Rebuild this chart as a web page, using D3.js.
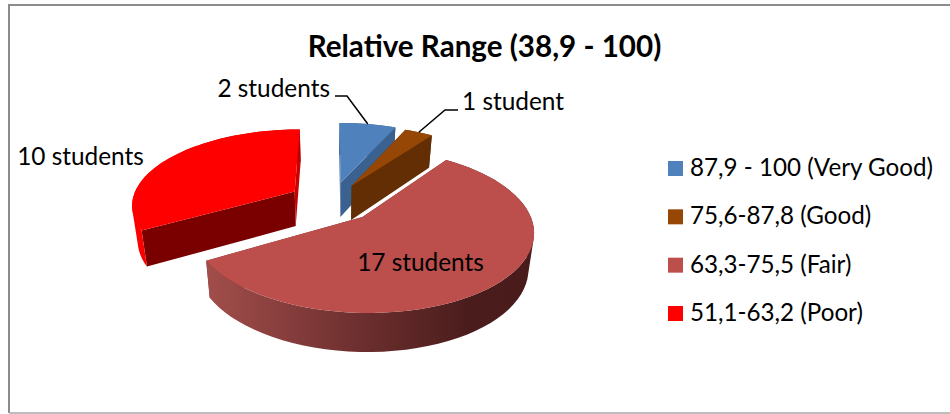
<!DOCTYPE html>
<html>
<head>
<meta charset="utf-8">
<script src="https://cdn.jsdelivr.net/npm/d3@7"></script>
<style>
  html, body { margin: 0; padding: 0; background: #fff; }
  svg { display: block; }
  text { font-family: Lato, "Open Sans", sans-serif; fill: #000; }
</style>
</head>
<body>
<script>
const width = 950;
const height = 414;

const categories = ['87,9 - 100 (Very Good)', '75,6-87,8 (Good)', '63,3-75,5 (Fair)', '51,1-63,2 (Poor)'];
const students = [2, 1, 17, 10];
const dataLabels = ['2 students', '1 student', '17 students', '10 students'];
const title = 'Relative Range (38,9 - 100)';

const topColors = ['#4f81bd', '#964605', '#bc4f4c', '#ff0000'];
const wallColors = ['#3a618f', '#632e03', '#7d3230', '#7a0000'];
const explode = [0.265, 0.25, 0.27, 0.27];

// tilted disc with a bit of perspective
const cx = 332, cy = 201.5;
const rx = 163, ry = 75, persp = 0.16, depth = 34.9, converge = 0.028;

function project(u, v) {
  const p = 1 / (1 - persp * v);
  return [cx + rx * u * p, cy + ry * v * p, p];
}

const svg = d3.select('body')
  .append('svg')
  .attr('width', width)
  .attr('height', height);

// frame runs off the right edge of the picture
svg.append('path')
  .attr('d', d3.line()([[width, 5], [9, 5], [9, 413]]))
  .attr('fill', 'none')
  .attr('stroke', '#8c8c8c')
  .attr('stroke-width', 2);
svg.append('path')
  .attr('d', d3.line()([[9, 413], [width, 413]]))
  .attr('fill', 'none')
  .attr('stroke', '#bcbcbc')
  .attr('stroke-width', 2);

const defs = svg.append('defs');
const fairGrad = defs.append('linearGradient').attr('id', 'fairWall');
[[0, '#a24e4b'], [0.45, '#6f3030'], [0.8, '#4b1c1c'], [1, '#4a1b1b']].forEach(s => {
  fairGrad.append('stop').attr('offset', s[0]).attr('stop-color', s[1]);
});
const redGrad = defs.append('linearGradient').attr('id', 'redWall');
[[0, '#ff0000'], [1, '#b80000']].forEach(s => {
  redGrad.append('stop').attr('offset', s[0]).attr('stop-color', s[1]);
});

const pie = d3.pie().sort(null).value(d => d);
const arcs = pie(students);
const line = d3.line();

function slicePoints(d, i) {
  const mid = (d.startAngle + d.endAngle) / 2;
  const ox = Math.sin(mid) * explode[i];
  const oy = -Math.cos(mid) * explode[i];
  const at = (a, r) => project(ox + Math.sin(a) * r, oy - Math.cos(a) * r);
  const steps = d3.range(0, 61).map(k => d.startAngle + (d.endAngle - d.startAngle) * k / 60);
  return {
    apex: at(0, 0),
    rim: steps.map(a => at(a, 1)),
    midPoint: at(mid, 1)
  };
}

const drop = p => [p[0] - (p[0] - cx) * converge, p[1] + depth * (0.5 + 0.5 * p[2])];
const xy = p => [p[0], p[1]];

// wall as one path of same-way-round quads, so the silhouette has no notch
function wallPath(rim) {
  return d3.pairs(rim).map(pair => {
    const quad = [xy(pair[0]), xy(pair[1]), drop(pair[1]), drop(pair[0])];
    if (d3.polygonArea(quad) < 0) quad.reverse();
    return line(quad) + 'Z';
  }).join('');
}

const gPie = svg.append('g').attr('class', 'pie');
const slices = arcs.map((d, i) => slicePoints(d, i));

// back to front
[0, 1, 3, 2].forEach(i => {
  const s = slices[i];
  const g = gPie.append('g').attr('class', 'slice');
  const first = s.rim[0];
  const last = s.rim[s.rim.length - 1];

  // the two cut faces
  [first, last].forEach(end => {
    g.append('path')
      .attr('d', line([xy(s.apex), xy(end), drop(end), drop(s.apex)]) + 'Z')
      .attr('fill', i === 3 && end === last ? '#c80000' : wallColors[i]);
  });

  // outer wall
  const wallFill = i === 2 ? 'url(#fairWall)' : i === 3 ? 'url(#redWall)' : wallColors[i];
  g.append('path')
    .attr('d', wallPath(s.rim))
    .attr('fill', wallFill);

  // top face
  g.append('path')
    .attr('d', line([xy(s.apex)].concat(s.rim.map(xy))) + 'Z')
    .attr('fill', topColors[i]);
});

svg.append('text')
  .attr('x', 484.5).attr('y', 57)
  .attr('text-anchor', 'middle')
  .attr('font-size', 29.6)
  .attr('font-weight', 700)
  .text(title);

// data labels
const labelPos = [[330, 97, 'end'], [462, 110, 'start'], [420.5, 271, 'middle'], [80.5, 165, 'middle']];
dataLabels.forEach((t, i) => {
  svg.append('text')
    .attr('x', labelPos[i][0]).attr('y', labelPos[i][1])
    .attr('text-anchor', labelPos[i][2])
    .attr('font-size', 24.4)
    .text(t);
});

// leader lines for the two small slices
[[335, 347, 0], [458, 445, 1]].forEach(l => {
  const y = l[2] === 0 ? 96 : 110;
  const end = slices[l[2]].midPoint;
  svg.append('path')
    .attr('d', line([[l[0], y], [l[1], y], xy(end)]))
    .attr('fill', 'none')
    .attr('stroke', '#000')
    .attr('stroke-width', 1.5);
});

// legend
const legendY = d3.scalePoint().domain(categories).range([168.5, 313.5]);
const gLegend = svg.append('g').attr('class', 'legend');
categories.forEach((c, i) => {
  gLegend.append('rect')
    .attr('x', 668).attr('y', legendY(c) - 7.5)
    .attr('width', 15).attr('height', 15)
    .attr('fill', topColors[i]);
  gLegend.append('text')
    .attr('x', 690).attr('y', legendY(c) + 7.5)
    .attr('font-size', 24.2)
    .text(c);
});
</script>
</body>
</html>
